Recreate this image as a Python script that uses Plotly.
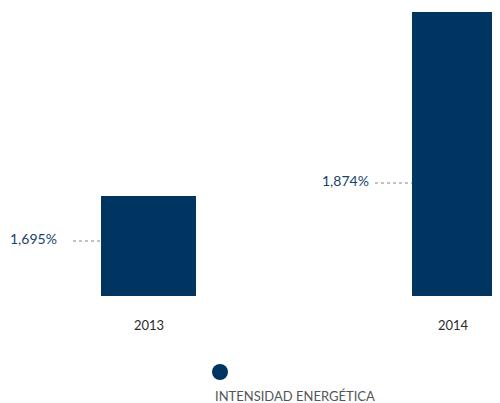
import plotly.graph_objects as go

years = ["2013", "2014"]
values = [1.695, 1.874]
value_labels = ["1,695%", "1,874%"]
series_name = "INTENSIDAD ENERGÉTICA"

OFF = 8  # browser body margin
W, H = 500 - OFF, 403 - OFF
BAR = "#003461"
base = 1.597
SCALE = 1025.3  # px per unit

def px(x):
    return (x - OFF) / W

def py(y):
    return (H - (y - OFF)) / H

fig = go.Figure()
fig.add_trace(go.Bar(
    x=years,
    y=[v - base for v in values],
    base=base,
    width=[0.312, 0.32],
    offset=[-0.156, -0.1346],
    marker=dict(color=BAR, line=dict(width=0)),
    showlegend=False,
    hoverinfo="skip",
))

# category axis: category 0 at window px 148.5, spacing 304.5 px
c0, sp = 148.5, 304.5
fig.update_layout(
    width=W, height=H,
    margin=dict(l=0, r=0, t=0, b=0),
    paper_bgcolor="white", plot_bgcolor="white",
    font=dict(family="Lato, Open Sans, sans-serif"),
    bargap=0,
    xaxis=dict(
        type="category",
        range=[(OFF - c0) / sp, (500 - c0) / sp],
        showgrid=False, zeroline=False, showline=False,
        showticklabels=False, ticks="",
    ),
    yaxis=dict(
        domain=[py(296), 1],
        range=[base, 1.874 + (12 - OFF) / SCALE],
        showgrid=False, zeroline=False, showline=False,
        showticklabels=False, ticks="",
    ),
)

# year labels
for yr, cx in zip(years, [149, 453]):
    fig.add_annotation(
        x=px(cx), y=py(325), xref="paper", yref="paper",
        text=yr, showarrow=False, xanchor="center", yanchor="middle",
        font=dict(size=13, color="#2b2b2b"),
    )

# value labels with dashed leaders
label_pos = [(33, 238, 73, 101, 241), (345, 180, 375, 412, 183)]
for lab, (lx, ly, x0, x1, yl) in zip(value_labels, label_pos):
    fig.add_annotation(
        x=px(lx), y=py(ly), xref="paper", yref="paper",
        text=lab, showarrow=False, xanchor="center", yanchor="middle",
        font=dict(size=14, color="#1a426c"),
    )
    fig.add_shape(
        type="line", xref="paper", yref="paper",
        x0=px(x0), x1=px(x1), y0=py(yl), y1=py(yl),
        line=dict(color="#888888", width=1, dash="dot"),
    )

# legend
fig.add_shape(
    type="circle", xref="paper", yref="paper",
    x0=px(212), x1=px(228), y0=py(380), y1=py(364),
    fillcolor=BAR, line=dict(width=0),
)
fig.add_annotation(
    x=px(213), y=py(396), xref="paper", yref="paper",
    text=series_name, showarrow=False, xanchor="left", yanchor="middle",
    font=dict(size=13, color="#555555"),
)

fig.write_html("out.html")
